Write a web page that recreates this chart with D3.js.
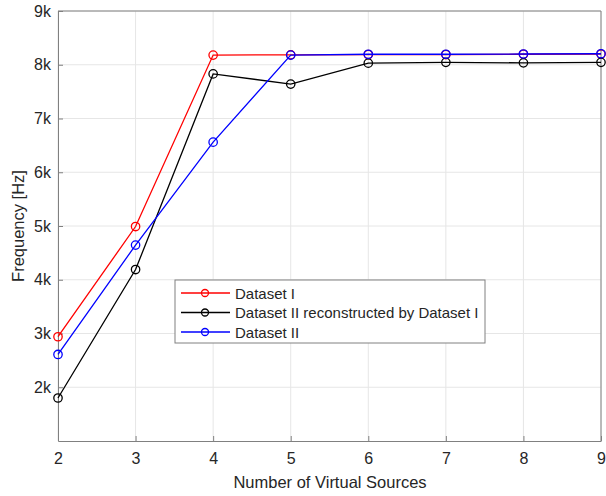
<!DOCTYPE html>
<html>
<head>
<meta charset="utf-8">
<script src="https://cdn.jsdelivr.net/npm/d3@7.9.0/dist/d3.min.js"></script>
<style>
  body { margin: 0; background: #fff; }
  text { font-family: "Liberation Sans", Arial, sans-serif; fill: #262626; }
</style>
</head>
<body>
<div id="chart"></div>
<script>
const sources = [2, 3, 4, 5, 6, 7, 8, 9];
const datasetI = [2940, 4990, 8180, 8185, 8190, 8190, 8195, 8200];
const reconstructed = [1800, 4190, 7830, 7640, 8030, 8045, 8035, 8045];
const datasetII = [2610, 4645, 6560, 8180, 8195, 8195, 8200, 8205];
const yTicks = [2000, 3000, 4000, 5000, 6000, 7000, 8000, 9000];

const seriesList = [
    { name: "Dataset I", values: datasetI, color: "#ff0000" },
    { name: "Dataset II reconstructed by Dataset I", values: reconstructed, color: "#000000" },
    { name: "Dataset II", values: datasetII, color: "#0000ff" }
];

const width = 606, height = 496;
const margin = { top: 11, right: 5, bottom: 55, left: 58 };

const svg = d3.select("#chart").append("svg")
    .attr("width", width)
    .attr("height", height);

const xScale = d3.scaleLinear()
    .domain([2, 9])
    .range([margin.left, width - margin.right]);

const yScale = d3.scaleLinear()
    .domain([1000, 9000])
    .range([height - margin.bottom, margin.top]);

const plotH = height - margin.top - margin.bottom;

// gridlines
const grid = svg.append("g").attr("class", "grid");
grid.selectAll("line.gx")
    .data(sources)
    .join("line")
    .attr("class", "gx")
    .attr("x1", d => xScale(d)).attr("x2", d => xScale(d))
    .attr("y1", margin.top).attr("y2", height - margin.bottom)
    .attr("stroke", "#e6e6e6");
grid.selectAll("line.gy")
    .data(yTicks)
    .join("line")
    .attr("class", "gy")
    .attr("x1", margin.left).attr("x2", width - margin.right)
    .attr("y1", d => yScale(d)).attr("y2", d => yScale(d))
    .attr("stroke", "#e6e6e6");

// axes
const xAxis = d3.axisBottom(xScale).tickValues(sources).tickSizeInner(-5).tickSizeOuter(0).tickPadding(12)
    .tickFormat(d3.format("d"));
const yAxis = d3.axisLeft(yScale).tickValues(yTicks).tickSizeInner(-5).tickSizeOuter(0).tickPadding(7)
    .tickFormat(d => (d / 1000) + "k");

const gx = svg.append("g")
    .attr("transform", `translate(0, ${height - margin.bottom})`)
    .call(xAxis);
const gy = svg.append("g")
    .attr("transform", `translate(${margin.left}, 0)`)
    .call(yAxis);

[gx, gy].forEach(g => {
    g.select(".domain").attr("stroke", "#808080");
    g.selectAll(".tick line").attr("stroke", "#808080");
    g.selectAll(".tick text").attr("font-size", "16px").attr("fill", "#262626")
        .attr("font-family", "Liberation Sans, Arial, sans-serif");
});

// box top / right
svg.append("line")
    .attr("x1", margin.left).attr("x2", width - margin.right)
    .attr("y1", margin.top).attr("y2", margin.top)
    .attr("stroke", "#808080");
svg.append("line")
    .attr("x1", width - margin.right).attr("x2", width - margin.right)
    .attr("y1", margin.top).attr("y2", height - margin.bottom)
    .attr("stroke", "#808080");

// labels
svg.append("text")
    .attr("x", 330)
    .attr("y", 488)
    .attr("text-anchor", "middle")
    .attr("font-size", "16.5px")
    .text("Number of Virtual Sources");

svg.append("text")
    .attr("transform", `translate(24, ${margin.top + plotH / 2}) rotate(-90)`)
    .attr("text-anchor", "middle")
    .attr("font-size", "16.5px")
    .text("Frequency [Hz]");

// lines
const line = d3.line()
    .x((d, i) => xScale(sources[i]))
    .y(d => yScale(d));

seriesList.forEach(s => {
    const g = svg.append("g");
    g.append("path")
        .attr("d", line(s.values))
        .attr("fill", "none")
        .attr("stroke", s.color)
        .attr("stroke-width", 1.3);
    g.selectAll("circle")
        .data(s.values)
        .join("circle")
        .attr("cx", (d, i) => xScale(sources[i]))
        .attr("cy", d => yScale(d))
        .attr("r", 4.2)
        .attr("fill", "none")
        .attr("stroke", s.color)
        .attr("stroke-width", 1.3);
});

// legend
const legend = svg.append("g").attr("transform", "translate(175, 280)");
legend.append("rect")
    .attr("width", 310).attr("height", 63)
    .attr("fill", "#fff")
    .attr("stroke", "#808080");
seriesList.forEach((s, i) => {
    const y = 13 + i * 19.5;
    legend.append("line")
        .attr("x1", 6).attr("x2", 55)
        .attr("y1", y).attr("y2", y)
        .attr("stroke", s.color).attr("stroke-width", 1.3);
    legend.append("circle")
        .attr("cx", 30).attr("cy", y).attr("r", 3.5)
        .attr("fill", "none").attr("stroke", s.color).attr("stroke-width", 1.3);
    legend.append("text")
        .attr("x", 60).attr("y", y + 5.5)
        .attr("font-size", "15px")
        .text(s.name);
});
</script>
</body>
</html>
